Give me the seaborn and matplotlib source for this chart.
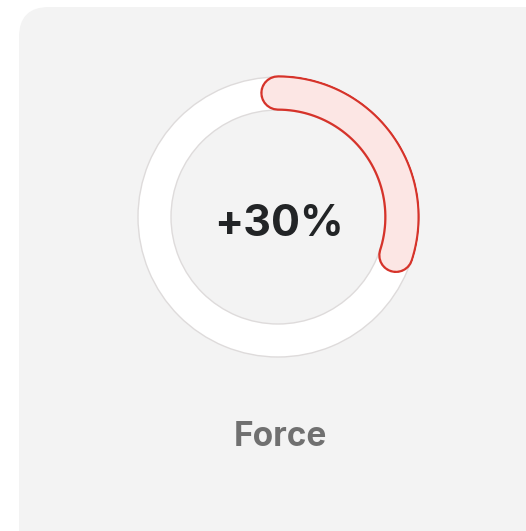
import numpy as np
import matplotlib
matplotlib.use("Agg")
import matplotlib.pyplot as plt
import matplotlib.patheffects as pe
from matplotlib.patches import FancyBboxPatch
import seaborn as sns

# data
label = "Force"
value = 30          # percent of the ring filled
value_text = "+30%"

sns.set_theme(style="white")
plt.rcParams["font.family"] = ["Inter", "DejaVu Sans"]

W, H = 526, 531
fig = plt.figure(figsize=(W / 100, H / 100), dpi=100)
fig.patch.set_facecolor("white")

# background card, pixel coordinates
bg = fig.add_axes([0, 0, 1, 1])
bg.set_xlim(0, W)
bg.set_ylim(H, 0)
bg.axis("off")
card = FancyBboxPatch((19, 7), 600, 600,
                      boxstyle="round,pad=0,rounding_size=30",
                      facecolor="#f3f3f3", edgecolor="none")
bg.add_patch(card)

# ring in polar axes
cx, cy, R = 278, 217, 142
ax = fig.add_axes([(cx - R) / W, (H - cy - R) / H, 2 * R / W, 2 * R / H],
                  projection="polar")
ax.set_theta_offset(np.pi / 2)
ax.set_theta_direction(-1)
ax.set_ylim(0, R)
ax.axis("off")
ax.patch.set_alpha(0)

r_in, r_out = 107, 140
ax.bar(0, r_out - r_in, width=2 * np.pi, bottom=r_in,
       color="white", edgecolor="#dedbdb", linewidth=1.0, align="edge")

theta = np.linspace(0, 2 * np.pi * value / 100, 200)
r_mid = (r_in + r_out) / 2 + 0.5
px = 0.72
ax.plot(theta, np.full_like(theta, r_mid), color="#fce6e4",
        linewidth=31 * px, solid_capstyle="round",
        path_effects=[pe.Stroke(linewidth=35.5 * px, foreground="#d6332a",
                                capstyle="round"),
                      pe.Normal()])

bg.text(cx + 1, cy + 8, value_text, ha="center", va="center",
        fontsize=31, fontweight="bold", color="#222426")
bg.text(cx + 2, 437, label, ha="center", va="center",
        fontsize=24, fontweight="bold", color="#707070")

fig.savefig("out.png", dpi=100)
